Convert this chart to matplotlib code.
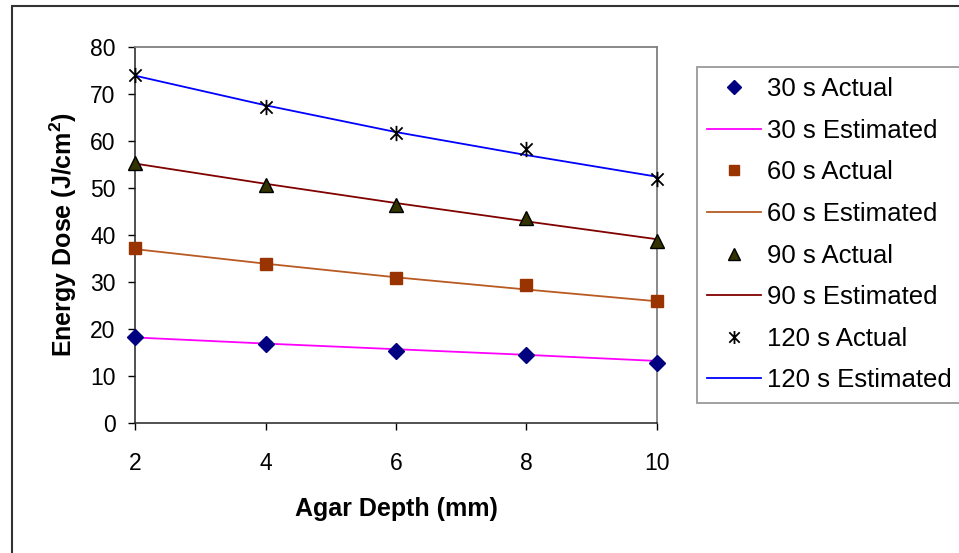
import matplotlib
matplotlib.use("Agg")
import matplotlib.pyplot as plt
from matplotlib.path import Path
from matplotlib.patches import Rectangle

plt.rcParams['font.family'] = ['Liberation Sans', 'DejaVu Sans']

# Agar depth (mm)
depth = [2, 4, 6, 8, 10]

# Measured energy dose (J/cm^2)
actual_30 = [18.3, 16.9, 15.3, 14.4, 12.7]
actual_60 = [37.2, 33.8, 30.8, 29.4, 26.0]
actual_90 = [55.3, 50.6, 46.3, 43.7, 38.8]
actual_120 = [74.0, 67.3, 61.7, 58.2, 51.9]

# Model estimates (J/cm^2)
est_30 = [18.2, 16.9, 15.7, 14.5, 13.2]
est_60 = [37.0, 33.9, 31.0, 28.4, 25.9]
est_90 = [55.2, 50.9, 46.8, 42.9, 39.1]
est_120 = [73.9, 67.6, 61.9, 57.0, 52.4]

xticks = [2, 4, 6, 8, 10]
yticks = [0, 10, 20, 30, 40, 50, 60, 70, 80]

# Asterisk marker: an X crossed by a vertical stroke
star_path = Path(
    [(-1, -1), (1, 1), (-1, 1), (1, -1), (0, -1.25), (0, 1.25)],
    [Path.MOVETO, Path.LINETO, Path.MOVETO, Path.LINETO, Path.MOVETO, Path.LINETO],
)

fig = plt.figure(figsize=(9.59, 5.53), dpi=100)
ax = fig.add_axes([135 / 959, 1 - 423 / 553, (657 - 135) / 959, (423 - 47) / 553])

lw = 1.3
h_a30, = ax.plot(depth, actual_30, linestyle='none', marker='D', markersize=8.5,
                 color='#000080', markeredgecolor='#000080', zorder=4, clip_on=False)
h_e30, = ax.plot(depth, est_30, color='#FF00FF', lw=lw, zorder=3)
h_a60, = ax.plot(depth, actual_60, linestyle='none', marker='s', markersize=8.5,
                 color='#993300', markeredgecolor='#993300', zorder=4, clip_on=False)
h_e60, = ax.plot(depth, est_60, color='#B85A22', lw=lw, zorder=3)
h_a90, = ax.plot(depth, actual_90, linestyle='none', marker='^', markersize=10.5,
                 color='#333300', markeredgecolor='black', markeredgewidth=1, zorder=4,
                 clip_on=False)
h_e90, = ax.plot(depth, est_90, color='#800000', lw=lw, zorder=3)
h_a120, = ax.plot(depth, actual_120, linestyle='none', marker=star_path, markersize=11,
                  color='black', markeredgewidth=1.3, zorder=4, clip_on=False)
h_e120, = ax.plot(depth, est_120, color='#0000FF', lw=lw, zorder=3)

ax.set_xlim(2, 10)
ax.set_ylim(0, 80)
ax.set_xticks(xticks)
ax.set_yticks(yticks)
ax.tick_params(axis='both', direction='out', length=5, width=1, colors='black',
               labelsize=16.5)
ax.tick_params(axis='y', pad=9)
ax.tick_params(axis='x', pad=16)

for side in ('top', 'right'):
    ax.spines[side].set_color('#808080')
    ax.spines[side].set_linewidth(1.3)
for side in ('left', 'bottom'):
    ax.spines[side].set_color('#222222')
    ax.spines[side].set_linewidth(1.1)

ax.set_xlabel('Agar Depth (mm)', fontsize=18, fontweight='bold', labelpad=16)
ax.set_ylabel('Energy Dose (J/cm$^\\mathregular{2}$)', fontsize=18, fontweight='bold', labelpad=8)

handles = [h_a30, h_e30, h_a60, h_e60, h_a90, h_e90, h_a120, h_e120]
labels = ['30 s Actual', '30 s Estimated', '60 s Actual', '60 s Estimated',
          '90 s Actual', '90 s Estimated', '120 s Actual', '120 s Estimated']
leg = fig.legend(handles, labels, loc='upper left',
                 bbox_to_anchor=(697 / 959, 1 - 67 / 553),
                 bbox_transform=fig.transFigure,
                 fontsize=18.5, frameon=True, fancybox=False, shadow=False,
                 borderpad=0.4, labelspacing=0.685, handlelength=2.1,
                 handletextpad=0.22, borderaxespad=0.0, markerscale=0.85)
leg.get_frame().set_edgecolor('#808080')
leg.get_frame().set_linewidth(1.3)

# Outer chart-area frame
fig.patches.append(Rectangle((12 / 959, -0.1), 1.2, 1 - 5.5 / 553 + 0.1,
                             transform=fig.transFigure, fill=False,
                             edgecolor='#333333', linewidth=1.5, zorder=0))

fig.savefig('out.png', dpi=100)
